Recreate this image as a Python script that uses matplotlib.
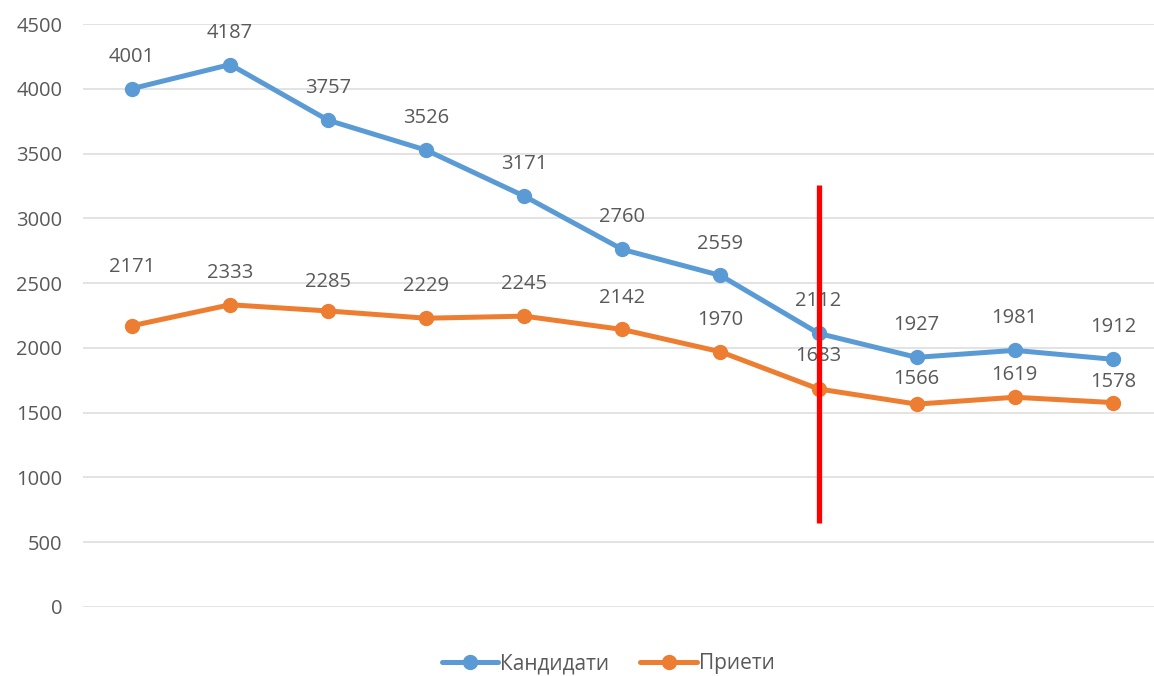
import matplotlib
matplotlib.use("Agg")
import matplotlib.pyplot as plt

# данни
years = list(range(11))
kandidati = [4001, 4187, 3757, 3526, 3171, 2760, 2559, 2112, 1927, 1981, 1912]
prieti = [2171, 2333, 2285, 2229, 2245, 2142, 1970, 1683, 1566, 1619, 1578]
y_ticks = [0, 500, 1000, 1500, 2000, 2500, 3000, 3500, 4000, 4500]
red_x = 7
red_from, red_to = 650, 3260

plt.rcParams['font.family'] = ['Open Sans', 'DejaVu Sans']
txt = '#595959'
blue = '#5B9BD5'
orange = '#ED7D31'
fs = 14.5

fig = plt.figure(figsize=(11.54, 6.76), dpi=100)
ax = fig.add_axes([83 / 1154, 69 / 676, 1 - 83 / 1154, 583 / 676])

ax.plot(years, kandidati, color=blue, lw=3.6, marker='o', ms=10, label='Кандидати',
        solid_capstyle='round', zorder=3)
ax.plot(years, prieti, color=orange, lw=3.6, marker='o', ms=10, label='Приети',
        solid_capstyle='round', zorder=3)

# подписи над точките (отместване в точки)
for x, v in zip(years, kandidati):
    ax.annotate(str(v), (x, v), xytext=(0, 23), textcoords='offset points',
                ha='center', va='center', fontsize=fs, color=txt)
off_p = [42, 23, 21, 23, 23, 23, 23, 24, 18, 16, 15]
for x, v, o in zip(years, prieti, off_p):
    ax.annotate(str(v), (x, v), xytext=(0, o), textcoords='offset points',
                ha='center', va='center', fontsize=fs, color=txt)

ax.vlines(red_x, red_from, red_to, color='#FF0000', lw=3.8, zorder=5)

ax.set_ylim(0, 4500)
ax.set_xlim(-0.5, 10.42)
ax.set_yticks(y_ticks)
ax.set_xticks([])
ax.yaxis.grid(True, color='#DEDEDE', lw=1.2)
ax.set_axisbelow(True)
ax.tick_params(axis='y', length=0, pad=15, labelsize=fs, labelcolor=txt)
for s in ax.spines.values():
    s.set_visible(False)

fig.legend(loc='lower center', bbox_to_anchor=(0.527, -0.025), ncol=2, frameon=False,
           fontsize=15, labelcolor=txt, handlelength=2.7, handletextpad=0.1,
           columnspacing=1.5)

fig.savefig('out.png', dpi=100)
